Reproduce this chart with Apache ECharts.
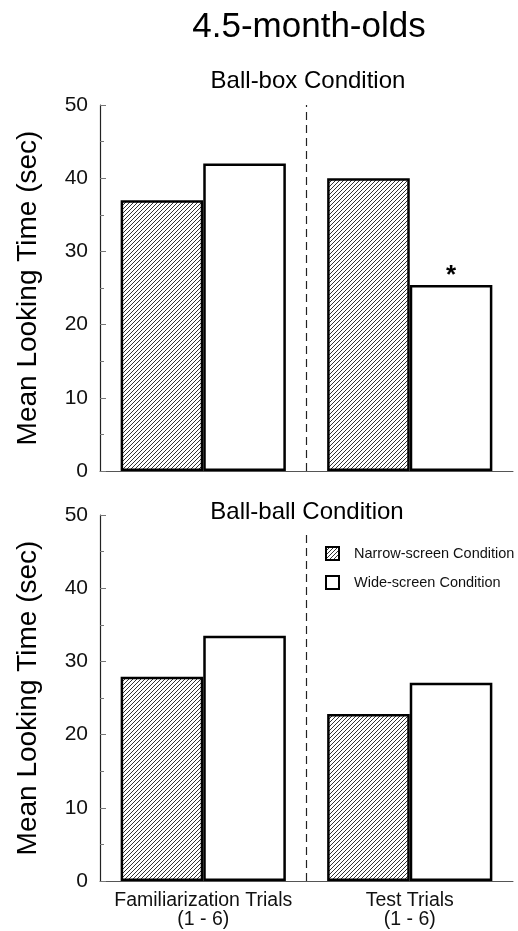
<!DOCTYPE html>
<html>
<head>
<meta charset="utf-8">
<script src="https://cdn.jsdelivr.net/npm/echarts@6/dist/echarts.min.js"></script>
<style>
  html, body { margin: 0; padding: 0; background: #fff; }
  #chart { width: 518px; height: 931px; }
</style>
</head>
<body>
<div id="chart"></div>
<script>
// ---- data ----
const categories = ['Familiarization Trials\n(1 - 6)', 'Test Trials\n(1 - 6)'];
const seriesNames = ['Narrow-screen Condition', 'Wide-screen Condition'];
const ballBoxNarrow = [37.0, 40.0];
const ballBoxWide = [42.0, 25.4];
const ballBoxWideSignificant = [false, true];
const ballBallNarrow = [27.9, 22.8];
const ballBallWide = [33.5, 27.1];
const yTicks = [0, 10, 20, 30, 40, 50];
const mainTitle = '4.5-month-olds';
const panelTitles = ['Ball-box Condition', 'Ball-ball Condition'];
const yName = 'Mean Looking Time (sec)';
const dividerTop = [[1, 0], [1, 50]];
const dividerBottom = [[1, 0], [1, 47.6]];

// ---- hatch pattern ----
function makeHatch() {
  const c = document.createElement('canvas');
  c.width = 4; c.height = 4;
  const ctx = c.getContext('2d');
  ctx.fillStyle = '#fff';
  ctx.fillRect(0, 0, 4, 4);
  ctx.strokeStyle = '#333';
  ctx.lineWidth = 1.0;
  ctx.beginPath();
  ctx.moveTo(0, 4); ctx.lineTo(4, 0);
  ctx.moveTo(-1, 1); ctx.lineTo(1, -1);
  ctx.moveTo(3, 5); ctx.lineTo(5, 3);
  ctx.stroke();
  return c;
}
const hatch = { image: makeHatch(), repeat: 'repeat' };

const FONT = 'Liberation Sans, Arial, Helvetica, sans-serif';
const chart = echarts.init(document.getElementById('chart'), null, { renderer: 'canvas' });

const grids = [
  { left: 100, right: 5, top: 105, height: 366, outerBoundsMode: 'none', containLabel: false },
  { left: 100, right: 5, top: 515, height: 366, outerBoundsMode: 'none', containLabel: false }
];

function xCat(gi, showLabels) {
  return {
    type: 'category', gridIndex: gi, data: categories,
    boundaryGap: true,
    axisLine: { show: true, lineStyle: { color: '#555', width: 1 } },
    axisTick: { show: false },
    axisLabel: {
      show: showLabels, interval: 0, margin: 10, fontSize: 19.5, lineHeight: 19,
      color: '#111', fontFamily: FONT
    },
    splitLine: { show: false }
  };
}
function xVal(gi) {
  return { type: 'value', gridIndex: gi, min: 0, max: 2, show: false };
}
function yAx(gi) {
  return {
    type: 'value', gridIndex: gi, min: yTicks[0], max: yTicks[yTicks.length - 1],
    interval: yTicks[1] - yTicks[0],
    name: yName, nameLocation: 'middle', nameGap: 58,
    nameTextStyle: { fontSize: 28, color: '#000', fontFamily: FONT },
    axisLine: { show: true, lineStyle: { color: '#222', width: 1.2 } },
    axisTick: { show: true, inside: true, length: 6, lineStyle: { color: '#777' } },
    minorTick: { show: true, splitNumber: 2, length: 4, lineStyle: { color: '#777' } },
    axisLabel: { fontSize: 21, color: '#111', margin: 12, fontFamily: FONT },
    splitLine: { show: false }
  };
}

function barSeries(name, gi, values, fill, sig) {
  return {
    name: name, type: 'bar', xAxisIndex: gi * 2, yAxisIndex: gi,
    barGap: '0%', barCategoryGap: '20%',
    itemStyle: { color: fill, borderColor: '#000', borderWidth: 2.5 },
    emphasis: { disabled: true },
    data: values.map((v, i) => (sig && sig[i]) ? {
      value: v,
      label: {
        show: true, position: 'top', distance: -4, formatter: '*',
        fontSize: 26, fontWeight: 'bold', color: '#000', fontFamily: FONT
      }
    } : v)
  };
}
function divider(gi, pts) {
  return {
    type: 'line', xAxisIndex: gi * 2 + 1, yAxisIndex: gi,
    data: pts, symbol: 'none', silent: true,
    lineStyle: { color: '#222', width: 1.2, type: [8, 5] }
  };
}

const option = {
  backgroundColor: '#fff',
  animation: false,
  title: [
    { text: mainTitle, left: 309, top: 10, textAlign: 'center', padding: 0,
      textStyle: { fontSize: 35, fontWeight: 'normal', color: '#000', fontFamily: FONT } },
    { text: panelTitles[0], left: 308, top: 69, textAlign: 'center', padding: 0,
      textStyle: { fontSize: 24, fontWeight: 'normal', color: '#000', fontFamily: FONT } },
    { text: panelTitles[1], left: 307, top: 500, textAlign: 'center', padding: 0,
      textStyle: { fontSize: 24, fontWeight: 'normal', color: '#000', fontFamily: FONT } }
  ],
  legend: {
    data: seriesNames, orient: 'vertical', left: 325, top: 546, padding: 0,
    itemWidth: 13, itemHeight: 13, itemGap: 14, icon: 'rect',
    selectedMode: false,
    textStyle: { fontSize: 14.5, color: '#111', fontFamily: FONT, padding: [0, 0, 0, 10] }
  },
  grid: grids,
  xAxis: [xCat(0, false), xVal(0), xCat(1, true), xVal(1)],
  yAxis: [yAx(0), yAx(1)],
  series: [
    barSeries(seriesNames[0], 0, ballBoxNarrow, hatch),
    barSeries(seriesNames[1], 0, ballBoxWide, '#fff', ballBoxWideSignificant),
    divider(0, dividerTop),
    barSeries(seriesNames[0], 1, ballBallNarrow, hatch),
    barSeries(seriesNames[1], 1, ballBallWide, '#fff'),
    divider(1, dividerBottom)
  ]
};
chart.setOption(option);
</script>
</body>
</html>
